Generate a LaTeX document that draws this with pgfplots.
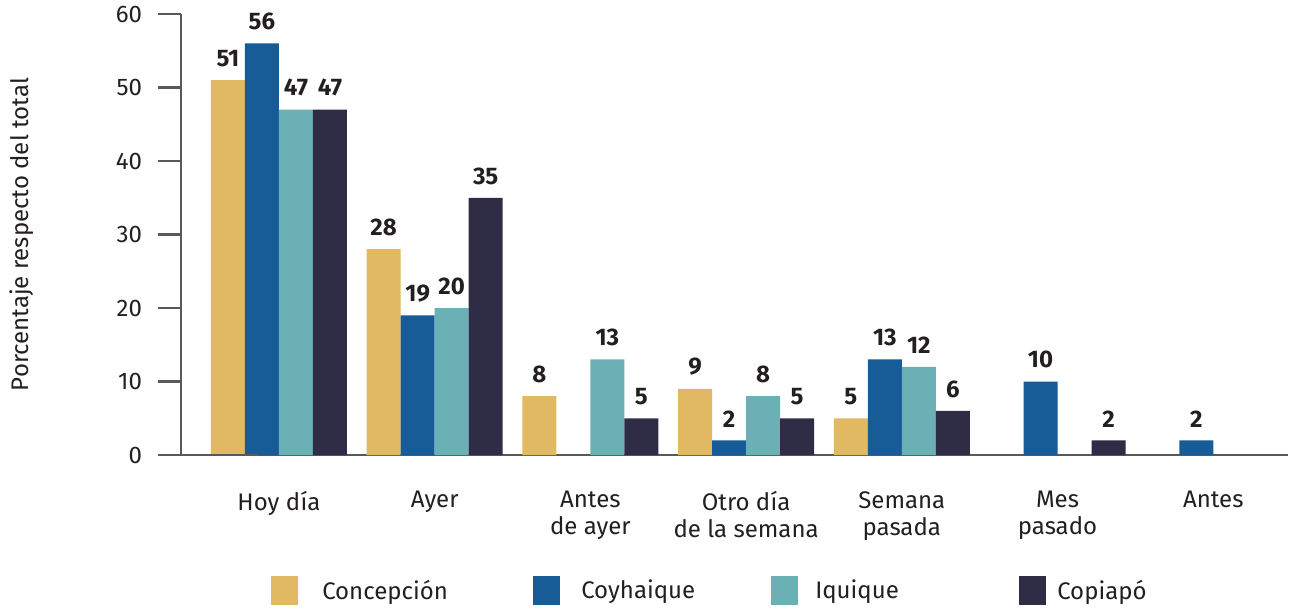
\documentclass[border=0pt]{standalone}
\usepackage{fontspec}
\setmainfont{Fira Sans}
\usepackage{pgfplots}
\pgfplotsset{compat=1.18}
\definecolor{cConc}{HTML}{E0B962}
\definecolor{cCoy}{HTML}{175B97}
\definecolor{cIqu}{HTML}{6AB0B5}
\definecolor{cCop}{HTML}{2F2D46}
\definecolor{axgray}{HTML}{58595B}
\definecolor{txt}{HTML}{231F20}
\begin{document}
\begin{tikzpicture}
\path[use as bounding box] (-135.75pt,-114.75pt) rectangle (835.5pt,341.25pt);
\begin{axis}[
  scale only axis, width=830.25pt, height=330.75pt,
  xmin=-0.629, xmax=6.48, ymin=0, ymax=60,
  clip=false,
  axis lines=left,
  axis line style={draw=axgray, line width=1.7pt, -},
  font=\fontsize{18}{20.25}\selectfont,
  /pgf/number format/assume math mode=true,
  ytick={0,10,20,30,40,50,60},
  xtick={0,1,2,3,4,5,6},
  xticklabels={Hoy día, Ayer, Antes\\de ayer, Otro día\\de la semana, Semana\\pasada, Mes\\pasado, Antes},
  x tick style={draw=none},
  y tick style={draw=axgray, line width=1.7pt},
  tick align=outside,
  major tick length=17.25pt,
  ticklabel style={text=txt},
  xticklabel style={align=center, anchor=north, yshift=-6.5pt},
  yticklabel style={xshift=-8.5pt},
  ylabel={Porcentaje respecto del total},
  ylabel style={at={(axis description cs:-0.1436,0.5)}, anchor=center, text=txt},
  nodes near coords,
  every node near coord/.append style={font=\fontsize{18}{20.25}\selectfont\bfseries, text=txt, anchor=south, inner ysep=0pt, yshift=9.75pt},
  legend image code/.code={\fill[#1] (0pt,-10.875pt) rectangle (20.25pt,10.875pt);},
  legend columns=4,
  legend style={at={(axis description cs:0.0813,-0.3072)}, anchor=west, draw=none, inner sep=0pt, font=\fontsize{18}{20.25}\selectfont, text=txt, nodes={inner sep=0pt}, /tikz/every even column/.append style={column sep=0pt}},
]
\addplot[ybar, bar width=0.2184, bar shift=-0.3276, fill=cConc, draw=none, every node near coord/.append style={xshift=-38.26pt}] coordinates {(0,51) (1,28) (2,8) (3,9) (4,5)};
\addplot[ybar, bar width=0.2184, bar shift=-0.1092, fill=cCoy, draw=none, every node near coord/.append style={xshift=-12.75pt}] coordinates {(0,56) (1,19) (3,2) (4,13) (5,10) (6,2)};
\addplot[ybar, bar width=0.2184, bar shift=0.1092, fill=cIqu, draw=none, every node near coord/.append style={xshift=12.75pt}] coordinates {(0,47) (1,20) (2,13) (3,8) (4,12)};
\addplot[ybar, bar width=0.2184, bar shift=0.3276, fill=cCop, draw=none, every node near coord/.append style={xshift=38.26pt}] coordinates {(0,47) (1,35) (2,5) (3,5) (4,6) (5,2)};
\legend{\makebox[176.25pt][l]{\hspace{18pt}Concepción}, \makebox[158.25pt][l]{\hspace{15.75pt}Coyhaique}, \makebox[165.75pt][l]{\hspace{12.75pt}Iquique}, \makebox[80pt][l]{\hspace{8.25pt}Copiapó}}
\draw[axgray, line width=1.7pt] (axis description cs:0,0) -- ++(-15.75pt,0);
\end{axis}
\end{tikzpicture}
\end{document}
